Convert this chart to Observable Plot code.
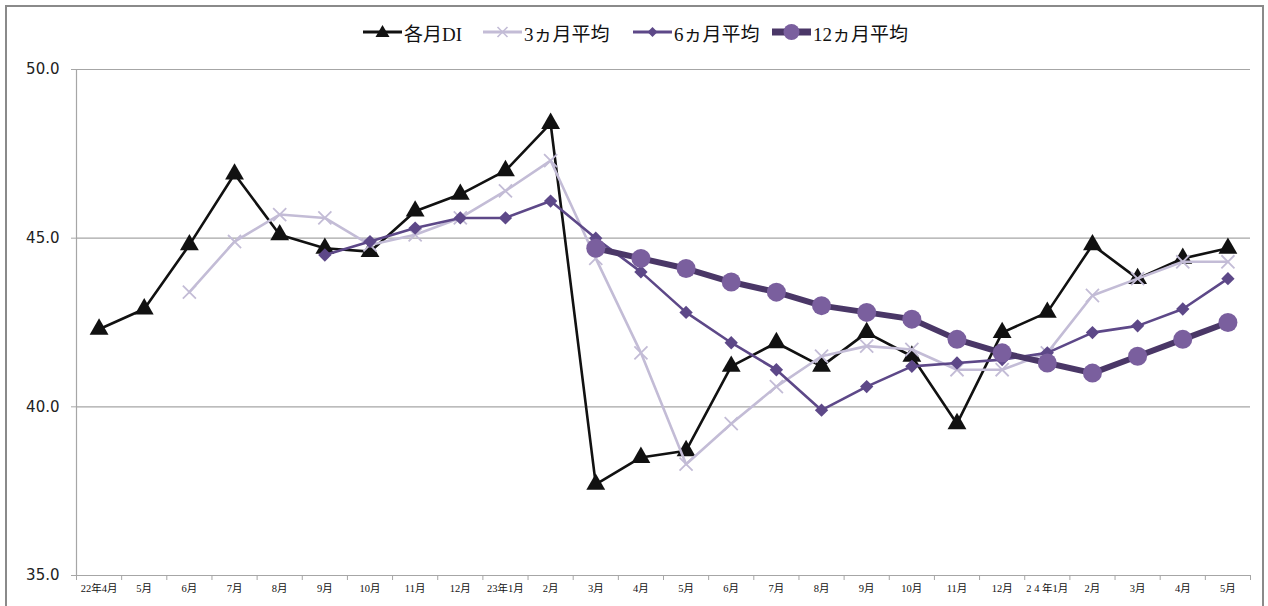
<!DOCTYPE html>
<html>
<head>
<meta charset="utf-8">
<script src="https://cdn.jsdelivr.net/npm/d3@7"></script>
<script src="https://cdn.jsdelivr.net/npm/@observablehq/plot@0.6"></script>
<style>
  html, body { margin: 0; padding: 0; background: #fff; }
  #wrap { position: relative; width: 1268px; height: 606px; overflow: hidden; }
  #frame { position: absolute; left: 5px; top: 5px; width: 1259px; height: 620px; border: 2px solid #8a8a8a; box-sizing: border-box; pointer-events: none; }
  #legend { position: absolute; left: 0; top: 0; width: 1268px; height: 50px; }
  .item { position: absolute; top: 19px; display: flex; align-items: center; height: 26px;
          font-family: "Liberation Serif", "Noto Sans CJK JP", serif; font-size: 19px; color: #111; }
  .item svg { margin-right: 2px; }
  #chart { position: absolute; left: 0; top: 50px; }
</style>
</head>
<body>
<div id="wrap">
  <div id="legend"></div>
  <div id="chart"></div>
  <div id="frame"></div>
</div>
<script>
const months = ["22年4月","5月","6月","7月","8月","9月","10月","11月","12月","23年1月","2月","3月","4月","5月","6月","7月","8月","9月","10月","11月","12月","2 4 年1月","2月","3月","4月","5月"];

const di    = [42.3,42.9,44.8,46.9,45.1,44.7,44.6,45.8,46.3,47.0,48.4,37.7,38.5,38.7,41.2,41.9,41.2,42.2,41.5,39.5,42.2,42.8,44.8,43.8,44.4,44.7];
const avg3  = [null,null,43.4,44.9,45.7,45.6,44.8,45.1,45.6,46.4,47.3,44.4,41.6,38.3,39.5,40.6,41.5,41.8,41.7,41.1,41.1,41.6,43.3,43.8,44.3,44.3];
const avg6  = [null,null,null,null,null,44.5,44.9,45.3,45.6,45.6,46.1,45.0,44.0,42.8,41.9,41.1,39.9,40.6,41.2,41.3,41.4,41.6,42.2,42.4,42.9,43.8];
const avg12 = [null,null,null,null,null,null,null,null,null,null,null,44.7,44.4,44.1,43.7,43.4,43.0,42.8,42.6,42.0,41.6,41.3,41.0,41.5,42.0,42.5];

const yTicks = [35, 40, 45, 50];
const seriesNames = ["各月DI", "3ヵ月平均", "6ヵ月平均", "12ヵ月平均"];

const toRows = arr => arr.map((v, i) => ({i, v})).filter(d => d.v != null);

const cBlack = "#111111", cLight = "#c3bcd6", cMid = "#5d4888", cDarkLine = "#4a3767", cCircle = "#7a5f9e";

const boundaries = d3.range(months.length + 1).map(i => i - 0.5);

const plot = Plot.plot({
  width: 1268,
  height: 556,
  marginLeft: 76,
  marginRight: 18,
  marginTop: 19,
  marginBottom: 31,
  x: {type: "linear", domain: [-0.5, months.length - 0.5]},
  y: {domain: [35, 50]},
  style: {background: "transparent"},
  marks: [
    Plot.ruleY(yTicks, {stroke: "#a6a6a6", strokeWidth: 1.2}),
    Plot.ruleX([-0.5], {y1: 35, y2: 50, stroke: "#a6a6a6", strokeWidth: 1.2}),
    Plot.axisY({ticks: yTicks, tickFormat: d3.format(".1f"), tickSize: 5, tickPadding: 12, stroke: "#a6a6a6",
                fontSize: 15, fill: "#222", fontFamily: "DejaVu Sans, Verdana, sans-serif", label: null}),
    Plot.axisX({ticks: boundaries, tickFormat: () => "", tickSize: 5, stroke: "#a6a6a6", label: null}),
    Plot.axisX({ticks: d3.range(months.length), tickFormat: i => months[i], tickSize: 0, tickPadding: 9,
                fontSize: 10.5, fill: "#111", fontFamily: "Liberation Serif, Noto Sans CJK JP, serif", label: null}),
    // 各月DI
    Plot.line(toRows(di), {x: "i", y: "v", stroke: cBlack, strokeWidth: 2.6}),
    Plot.dot(toRows(di), {x: "i", y: "v", symbol: "triangle", r: 7, fill: cBlack, stroke: "none"}),
    // 3ヵ月平均
    Plot.line(toRows(avg3), {x: "i", y: "v", stroke: cLight, strokeWidth: 2.6}),
    Plot.dot(toRows(avg3), {x: "i", y: "v", symbol: "times", r: 6, stroke: cLight, strokeWidth: 1.8}),
    // 6ヵ月平均
    Plot.line(toRows(avg6), {x: "i", y: "v", stroke: cMid, strokeWidth: 2.6}),
    Plot.dot(toRows(avg6), {x: "i", y: "v", symbol: "diamond2", r: 6, fill: cMid, stroke: "none"}),
    // 12ヵ月平均
    Plot.line(toRows(avg12), {x: "i", y: "v", stroke: cDarkLine, strokeWidth: 6}),
    Plot.dot(toRows(avg12), {x: "i", y: "v", r: 9.5, fill: cCircle, stroke: "none"})
  ]
});
document.getElementById("chart").appendChild(plot);

// Legend
const legendSpecs = [
  {left: 363, line: cBlack, lw: 3, sym: "tri", fill: cBlack},
  {left: 483, line: cLight, lw: 3, sym: "x", fill: cLight},
  {left: 633, line: cMid, lw: 3, sym: "dia", fill: cMid},
  {left: 772, line: cDarkLine, lw: 7, sym: "circ", fill: cCircle}
];
const legend = document.getElementById("legend");
legendSpecs.forEach((s, k) => {
  const div = document.createElement("div");
  div.className = "item";
  div.style.left = s.left + "px";
  const W = 39, H = 26, cx = W / 2, cy = H / 2;
  let m = "";
  if (s.sym === "tri") m = `<path d="M${cx},${cy-7} L${cx+7},${cy+5} L${cx-7},${cy+5} Z" fill="${s.fill}"/>`;
  if (s.sym === "x") m = `<path d="M${cx-5},${cy-5} L${cx+5},${cy+5} M${cx+5},${cy-5} L${cx-5},${cy+5}" stroke="${s.fill}" stroke-width="1.6"/>`;
  if (s.sym === "dia") m = `<path d="M${cx},${cy-5} L${cx+5},${cy} L${cx},${cy+5} L${cx-5},${cy} Z" fill="${s.fill}"/>`;
  if (s.sym === "circ") m = `<circle cx="${cx}" cy="${cy}" r="8" fill="${s.fill}"/>`;
  div.innerHTML = `<svg width="${W}" height="${H}"><line x1="0" x2="${W}" y1="${cy}" y2="${cy}" stroke="${s.line}" stroke-width="${s.lw}"/>${m}</svg><span>${seriesNames[k]}</span>`;
  legend.appendChild(div);
});
</script>
</body>
</html>
